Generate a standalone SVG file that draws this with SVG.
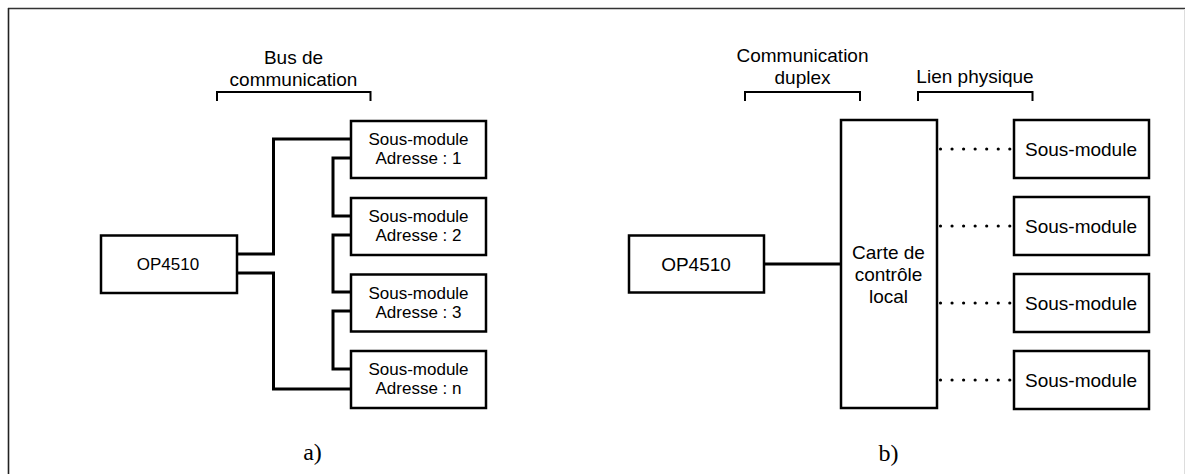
<svg xmlns="http://www.w3.org/2000/svg" width="1185" height="474" viewBox="0 0 1185 474">
<style>
.box{fill:#fff;stroke:#000;stroke-width:2.5}
.t17{font-family:"Liberation Sans",Arial,sans-serif;font-size:17px;fill:#000;text-anchor:middle}
.t19{font-family:"Liberation Sans",Arial,sans-serif;font-size:19px;fill:#000;text-anchor:middle}
.cap{font-family:"Liberation Serif","Times New Roman",serif;font-size:24px;fill:#000;text-anchor:middle}
.wire{fill:none;stroke:#000;stroke-width:3}
.brk{fill:none;stroke:#000;stroke-width:2}
.dot{fill:none;stroke:#000;stroke-width:3.2;stroke-linecap:round;stroke-dasharray:0 11.55}
</style>
<rect x="0" y="0" width="1185" height="474" fill="#fff"/>
<g id="frame">
<line x1="8" y1="8.5" x2="1185" y2="8.5" stroke="#333" stroke-width="1.6"/>
<line x1="8.5" y1="8" x2="8.5" y2="474" stroke="#222" stroke-width="1.6"/>
<line x1="1184.5" y1="9" x2="1184.5" y2="474" stroke="#ddd" stroke-width="1"/>
</g>
<g id="connectors">
<path class="wire" d="M237,254 H273.5 V139 H351"/>
<path class="wire" d="M237,273 H273.5 V389 H351"/>
<path class="wire" d="M351,158 H333 V216 H351"/>
<path class="wire" d="M351,235 H333 V292 H351"/>
<path class="wire" d="M351,311 H333 V369 H351"/>
<path class="wire" d="M764,264 H841"/>
<line class="dot" x1="940.5" y1="149" x2="1010.5" y2="149"/>
<line class="dot" x1="940.5" y1="226" x2="1010.5" y2="226"/>
<line class="dot" x1="940.5" y1="303" x2="1010.5" y2="303"/>
<line class="dot" x1="940.5" y1="380" x2="1010.5" y2="380"/>
</g>
<g id="label-bus">
<path class="brk" d="M217,101 V92 H370.5 V101"/>
<text class="t19" x="293.5" y="64">Bus de</text>
<text class="t19" x="293.5" y="85.5">communication</text>
</g>
<g id="label-duplex">
<path class="brk" d="M745,101 V92 H860 V101"/>
<text class="t19" x="802.5" y="62">Communication</text>
<text class="t19" x="802.5" y="83.5">duplex</text>
</g>
<g id="label-lien">
<path class="brk" d="M918,101 V92 H1032.5 V101"/>
<text class="t19" x="975" y="83">Lien physique</text>
</g>
<g id="a-op4510">
<rect class="box" x="101" y="235.5" width="136" height="57.5"/>
<text class="t17" x="168" y="270">OP4510</text>
</g>
<g id="a-sm1">
<rect class="box" x="351" y="121" width="135" height="57"/>
<text class="t17" x="418.5" y="145">Sous-module</text>
<text class="t17" x="418.5" y="164">Adresse : 1</text>
</g>
<g id="a-sm2">
<rect class="box" x="351" y="198" width="135" height="57"/>
<text class="t17" x="418.5" y="222">Sous-module</text>
<text class="t17" x="418.5" y="241">Adresse : 2</text>
</g>
<g id="a-sm3">
<rect class="box" x="351" y="274.5" width="135" height="57"/>
<text class="t17" x="418.5" y="298.5">Sous-module</text>
<text class="t17" x="418.5" y="317.5">Adresse : 3</text>
</g>
<g id="a-smn">
<rect class="box" x="351" y="351" width="135" height="57"/>
<text class="t17" x="418.5" y="375">Sous-module</text>
<text class="t17" x="418.5" y="394">Adresse : n</text>
</g>
<g id="b-op4510">
<rect class="box" x="629" y="235.5" width="135" height="57"/>
<text class="t19" x="696" y="271">OP4510</text>
</g>
<g id="b-carte">
<rect class="box" x="841" y="120" width="96" height="288"/>
<text class="t19" x="888.5" y="259">Carte de</text>
<text class="t19" x="888.5" y="281">contrôle</text>
<text class="t19" x="888.5" y="303">local</text>
</g>
<g id="b-sm1">
<rect class="box" x="1014" y="120" width="135" height="58"/>
<text class="t19" x="1081" y="156">Sous-module</text>
</g>
<g id="b-sm2">
<rect class="box" x="1014" y="197" width="135" height="58"/>
<text class="t19" x="1081" y="233">Sous-module</text>
</g>
<g id="b-sm3">
<rect class="box" x="1014" y="274" width="135" height="58"/>
<text class="t19" x="1081" y="310">Sous-module</text>
</g>
<g id="b-sm4">
<rect class="box" x="1014" y="351" width="135" height="58"/>
<text class="t19" x="1081" y="387">Sous-module</text>
</g>
<g id="captions">
<text class="cap" x="312.5" y="460">a)</text>
<text class="cap" x="888.5" y="461">b)</text>
</g>
</svg>
